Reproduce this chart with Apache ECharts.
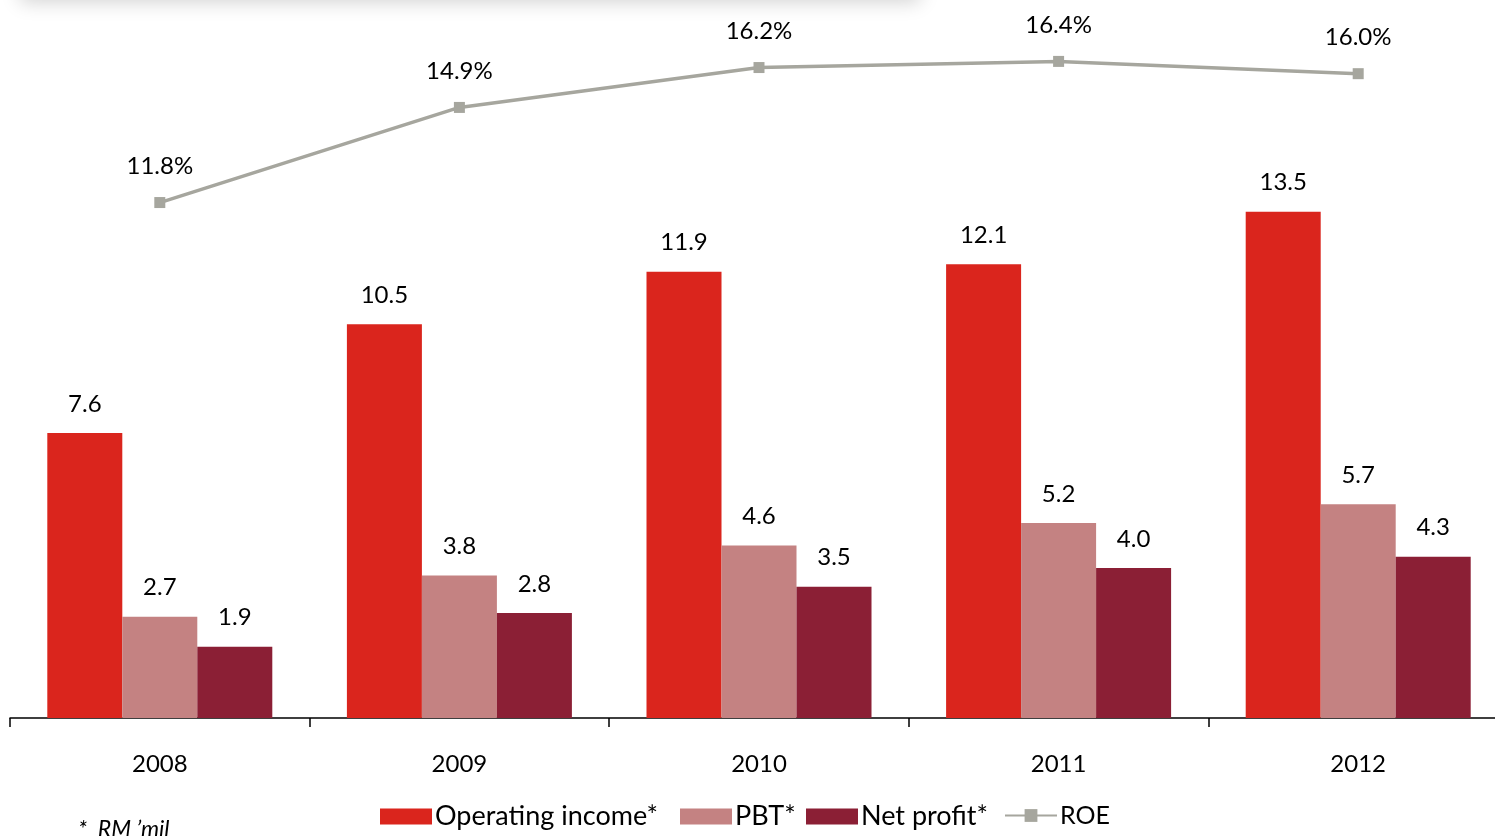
<!DOCTYPE html>
<html>
<head>
<meta charset="utf-8">
<script src="https://cdn.jsdelivr.net/npm/echarts@6/dist/echarts.min.js"></script>
<style>
html,body{margin:0;padding:0;background:#fff;overflow:hidden;width:1495px;height:836px;}
#chart{width:1508px;height:836px;}
</style>
</head>
<body>
<div id="chart"></div>
<script>
const years = ['2008', '2009', '2010', '2011', '2012'];
const operatingIncome = [7.6, 10.5, 11.9, 12.1, 13.5];
const pbt = [2.7, 3.8, 4.6, 5.2, 5.7];
const netProfit = [1.9, 2.8, 3.5, 4.0, 4.3];
const roe = [11.8, 14.9, 16.2, 16.4, 16.0];

const FONT = 'Lato';
const chart = echarts.init(document.getElementById('chart'));
const barLabel = {
  show: true, position: 'top', distance: 17,
  fontFamily: FONT, fontSize: 24, color: '#000',
  formatter: p => p.value.toFixed(1)
};
function leg(name, left, icon, size) {
  const d = { name: name };
  if (icon) d.icon = icon;
  return {
    top: 803, left: left, padding: 0,
    itemWidth: 52, itemHeight: 16,
    textStyle: { fontFamily: FONT, fontSize: size, color: '#000', padding: [0, 0, 0, -2] },
    data: [d]
  };
}
chart.setOption({
  animation: false,
  backgroundColor: '#fff',
  textStyle: { fontFamily: FONT },
  grid: { left: 10, right: 0, top: 43, bottom: 118, containLabel: false },
  legend: [
    leg('Operating income*', 380, 'rect', 27),
    leg('PBT*', 680, 'rect', 27),
    leg('Net profit*', 806, 'rect', 27),
    leg('ROE', 1004, null, 25)
  ],
  xAxis: {
    type: 'category', data: years, boundaryGap: true,
    axisLine: { lineStyle: { color: '#000', width: 1.5 } },
    axisTick: { show: true, length: 9, lineStyle: { color: '#000', width: 1.5 } },
    axisLabel: { margin: 34, fontFamily: FONT, fontSize: 24, color: '#000' }
  },
  yAxis: [
    { type: 'value', min: 0, max: 18, show: false, splitLine: { show: false } },
    { type: 'value', min: -5, max: 17, show: false, splitLine: { show: false } }
  ],
  graphic: [
    {
      type: 'rect', left: 20, top: -60,
      shape: { x: 0, y: 0, width: 900, height: 60 },
      style: { fill: '#fff', shadowBlur: 18, shadowColor: 'rgba(0,0,0,0.18)', shadowOffsetY: 2 }
    },
    {
      type: 'text', left: 78, top: 818,
      style: { text: '*  RM \u2019mil', fontFamily: FONT, fontStyle: 'italic', fontSize: 23, fill: '#000' }
    }
  ],
  series: [
    {
      name: 'Operating income*', type: 'bar', data: operatingIncome,
      barWidth: 75, barGap: '0%', itemStyle: { color: '#DA251D' }, label: barLabel
    },
    {
      name: 'PBT*', type: 'bar', data: pbt,
      barWidth: 75, barGap: '0%', itemStyle: { color: '#C48282' }, label: barLabel
    },
    {
      name: 'Net profit*', type: 'bar', data: netProfit,
      barWidth: 75, barGap: '0%', itemStyle: { color: '#8B1F35' }, label: barLabel
    },
    {
      name: 'ROE', type: 'line', yAxisIndex: 1, data: roe,
      symbol: 'rect', symbolSize: 11,
      lineStyle: { color: '#A6A69E', width: 3.5 },
      itemStyle: { color: '#A6A69E' },
      label: {
        show: true, position: 'top', distance: 19,
        fontFamily: FONT, fontSize: 24, color: '#000',
        formatter: p => p.value.toFixed(1) + '%'
      }
    }
  ]
});
</script>
</body>
</html>
